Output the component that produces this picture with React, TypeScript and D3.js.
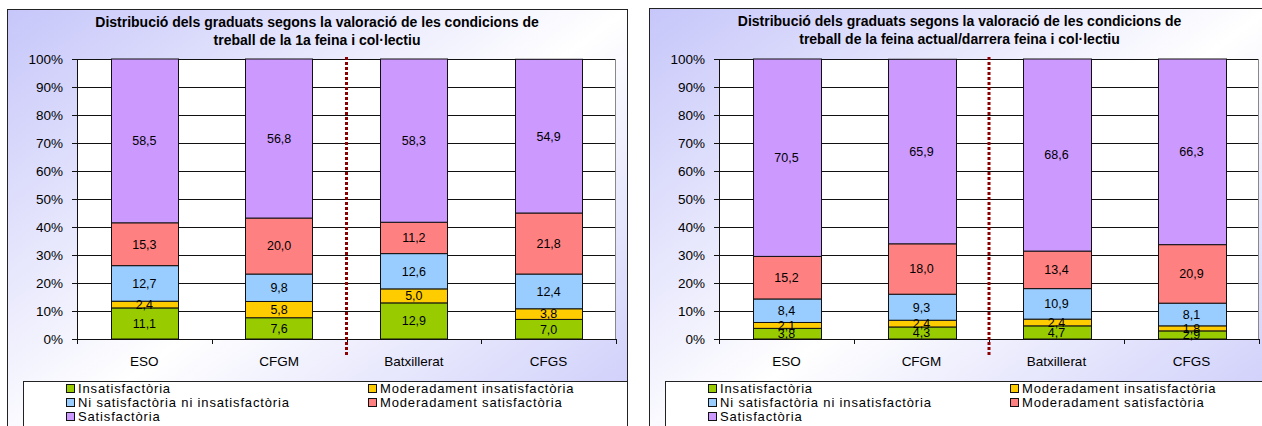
import * as d3 from 'd3';

const categories = ['ESO', 'CFGM', 'Batxillerat', 'CFGS'];
const seriesNames = [
  'Insatisfactòria',
  'Moderadament insatisfactòria',
  'Ni satisfactòria ni insatisfactòria',
  'Moderadament satisfactòria',
  'Satisfactòria',
];
const colors = ['#99CC00', '#FFCC00', '#99CCFF', '#FF8080', '#CC99FF'];

// values per category, series in order above
const firstJob = [
  [11.1, 2.4, 12.7, 15.3, 58.5],
  [7.6, 5.8, 9.8, 20.0, 56.8],
  [12.9, 5.0, 12.6, 11.2, 58.3],
  [7.0, 3.8, 12.4, 21.8, 54.9],
];
const currentJob = [
  [3.8, 2.1, 8.4, 15.2, 70.5],
  [4.3, 2.4, 9.3, 18.0, 65.9],
  [4.7, 2.4, 10.9, 13.4, 68.6],
  [2.9, 1.8, 8.1, 20.9, 66.3],
];
const yTicks = [0, 10, 20, 30, 40, 50, 60, 70, 80, 90, 100];

const titleLeft = [
  'Distribució dels graduats segons la valoració de les condicions de',
  'treball de la 1a feina i col·lectiu',
];
const titleRight = [
  'Distribució dels graduats segons la valoració de les condicions de',
  'treball de la feina actual/darrera feina i col·lectiu',
];

const font = '"Liberation Sans", Arial, sans-serif';
const fmt = (v: number) => v.toFixed(1).replace('.', ',');

type PanelProps = {
  id: string;
  x: number;
  y: number;
  width: number;
  title: string[];
  data: number[][];
};

function Panel({ id, x, y, width, title, data }: PanelProps) {
  const plotLeft = 70;
  const plotRight = width - 11;
  const yScale = d3.scaleLinear().domain([0, 100]).range([339 - y, 59 - y]);
  const xScale = d3
    .scaleBand<string>()
    .domain(categories)
    .range([plotLeft, plotRight])
    .paddingInner(0.5)
    .paddingOuter(0.25);
  const step = xScale.step();
  const bw = xScale.bandwidth();
  const y0 = yScale(0);
  const y100 = yScale(100);
  const stacks = data.map((vals) => {
    let acc = 0;
    return vals.map((v) => {
      const s = acc;
      acc += v;
      return { s, e: acc, v };
    });
  });
  const legendTop = 381 - y;
  const dashX = plotLeft + step * 2;

  return (
    <g transform={`translate(${x},${y})`}>
      <defs>
        <linearGradient id={`bg-${id}`} x1="0" y1="0" x2="1" y2="1">
          <stop offset="0" stopColor="#C6C6FA" />
          <stop offset="0.5" stopColor="#FFFFFF" />
          <stop offset="1" stopColor="#C6C6FA" />
        </linearGradient>
      </defs>
      <rect x={0.5} y={0.5} width={width} height={460} fill={`url(#bg-${id})`} stroke="#222" strokeWidth={1} />
      {title.map((t, i) => (
        <text
          key={i}
          x={width / 2}
          y={18 + i * 18}
          textAnchor="middle"
          fontFamily={font}
          fontWeight="bold"
          fontSize={14}
        >
          {t}
        </text>
      ))}
      {/* plot area */}
      <rect x={plotLeft} y={y100} width={plotRight - plotLeft} height={y0 - y100} fill="#fff" />
      {yTicks.map((t) => (
        <g key={t}>
          <line x1={plotLeft} x2={plotRight} y1={Math.round(yScale(t)) + 0.5} y2={Math.round(yScale(t)) + 0.5} stroke="#111" />
          <line x1={plotLeft - 5} x2={plotLeft} y1={Math.round(yScale(t)) + 0.5} y2={Math.round(yScale(t)) + 0.5} stroke="#111" />
          <text
            x={plotLeft - 14}
            y={yScale(t)}
            dy="0.35em"
            textAnchor="end"
            fontFamily={font}
            fontSize={13.5}
          >
            {t}%
          </text>
        </g>
      ))}
      <line x1={plotRight - 0.5} x2={plotRight - 0.5} y1={y100} y2={y0} stroke="#888" />
      <line x1={plotLeft + 0.5} x2={plotLeft + 0.5} y1={y100} y2={y0} stroke="#111" />
      {d3.range(categories.length + 1).map((i) => (
        <line
          key={i}
          x1={Math.round(plotLeft + step * i) + 0.5}
          x2={Math.round(plotLeft + step * i) + 0.5}
          y1={y0}
          y2={y0 + 5}
          stroke="#111"
        />
      ))}
      {categories.map((c, ci) => (
        <g key={c}>
          {stacks[ci].map((seg, si) => (
            <rect
              key={si}
              x={Math.round(xScale(c)!) + 0.5}
              y={yScale(seg.e)}
              width={Math.round(bw)}
              height={yScale(seg.s) - yScale(seg.e)}
              fill={colors[si]}
              stroke="#111"
              strokeWidth={1}
            />
          ))}
          {stacks[ci].map((seg, si) => (
            <text
              key={'l' + si}
              x={xScale(c)! + bw / 2}
              y={yScale((seg.s + seg.e) / 2)}
              dy="0.35em"
              textAnchor="middle"
              fontFamily={font}
              fontSize={12.5}
            >
              {fmt(seg.v)}
            </text>
          ))}
          <text
            x={xScale(c)! + bw / 2}
            y={366 - y}
            textAnchor="middle"
            fontFamily={font}
            fontSize={13.5}
          >
            {c}
          </text>
        </g>
      ))}
      <line
        x1={dashX}
        x2={dashX}
        y1={57 - y}
        y2={357 - y}
        stroke="#8B0000"
        strokeWidth={3}
        strokeDasharray="3,2"
      />
      {/* legend */}
      <rect x={16.5} y={legendTop + 0.5} width={width - 16} height={80} fill="#fff" stroke="#222" />
      {seriesNames.map((n, i) => {
        const col = i % 2;
        const row = Math.floor(i / 2);
        const lx = col === 0 ? 59 : 361;
        const ly = legendTop + 7 + row * 14;
        return (
          <g key={n}>
            <rect x={lx + 0.5} y={ly - 3.5} width={8} height={8} fill={colors[i]} stroke="#111" />
            <text x={lx + 12} y={ly} dy="0.35em" fontFamily={font} fontSize={13} letterSpacing={0.85}>
              {n}
            </text>
          </g>
        );
      })}
    </g>
  );
}

export default function App() {
  return (
    <svg
      width={1262}
      height={426}
      style={{ position: 'absolute', left: 0, top: 0, background: '#fff' }}
    >
      <Panel id="a" x={7} y={9} width={620} title={titleLeft} data={firstJob} />
      <Panel id="b" x={649} y={8} width={621} title={titleRight} data={currentJob} />
    </svg>
  );
}
